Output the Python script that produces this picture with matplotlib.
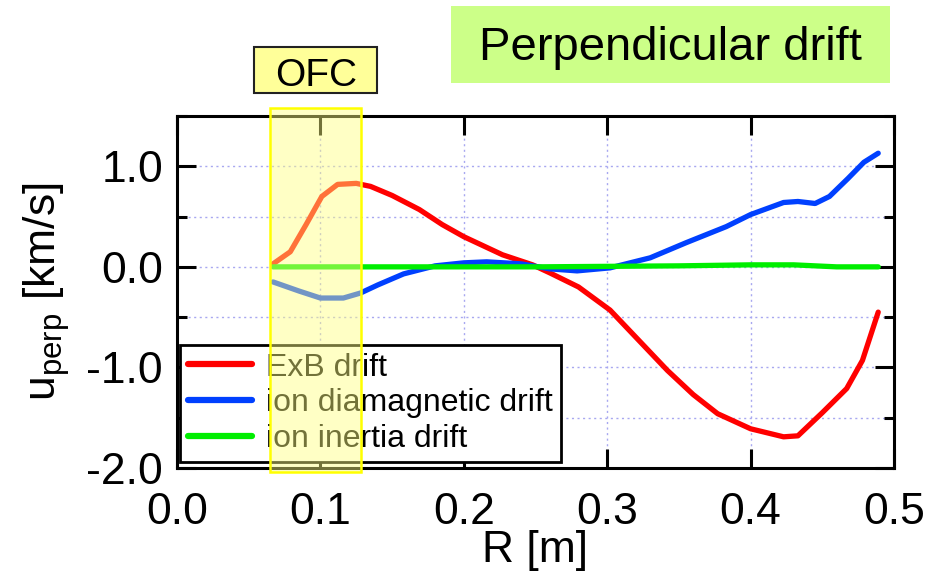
import matplotlib
matplotlib.use("Agg")
import matplotlib.pyplot as plt
from matplotlib.patches import Rectangle
from matplotlib.ticker import MultipleLocator, FormatStrFormatter

plt.rcParams['font.family'] = ['Liberation Sans', 'DejaVu Sans']
plt.rcParams['mathtext.fontset'] = 'custom'
plt.rcParams['mathtext.rm'] = 'Liberation Sans'
plt.rcParams['mathtext.it'] = 'Liberation Sans'

# ExB drift
r_exb = [0.067, 0.079, 0.090, 0.101, 0.112, 0.125, 0.135, 0.150, 0.169, 0.185, 0.200,
         0.227, 0.248, 0.260, 0.280, 0.302, 0.320, 0.342, 0.360, 0.377, 0.400, 0.423,
         0.433, 0.450, 0.467, 0.478, 0.489]
u_exb = [0.03, 0.15, 0.42, 0.70, 0.82, 0.83, 0.80, 0.71, 0.57, 0.42, 0.30,
         0.12, 0.02, -0.06, -0.20, -0.43, -0.70, -1.03, -1.27, -1.46, -1.61, -1.69,
         -1.68, -1.45, -1.21, -0.93, -0.45]

# ion diamagnetic drift
r_dia = [0.067, 0.085, 0.100, 0.116, 0.128, 0.140, 0.158, 0.180, 0.200, 0.216, 0.240,
         0.260, 0.279, 0.302, 0.330, 0.355, 0.383, 0.400, 0.423, 0.433, 0.445, 0.455,
         0.468, 0.479, 0.489]
u_dia = [-0.15, -0.24, -0.31, -0.31, -0.26, -0.18, -0.07, 0.01, 0.04, 0.05, 0.03,
         -0.02, -0.04, -0.01, 0.09, 0.24, 0.40, 0.52, 0.64, 0.65, 0.63, 0.70,
         0.88, 1.04, 1.13]

# ion inertia drift
r_ine = [0.067, 0.150, 0.250, 0.350, 0.400, 0.430, 0.460, 0.489]
u_ine = [0.00, 0.00, 0.00, 0.01, 0.02, 0.02, 0.00, 0.00]

labels = ["ExB drift", "ion diamagnetic drift", "ion inertia drift"]
colors = ["#ff0000", "#0040ff", "#00ee00"]

W, H = 931, 579
fig = plt.figure(figsize=(W/100, H/100), dpi=100)
ax = fig.add_axes([177/W, 1 - 468/H, (894-177)/W, (468-116)/H])

lw = 3.8
ax.plot(r_exb, u_exb, color=colors[0], lw=lw, label=labels[0], solid_capstyle='round', zorder=3)
ax.plot(r_dia, u_dia, color=colors[1], lw=lw, label=labels[1], solid_capstyle='round', zorder=3)
ax.plot(r_ine, u_ine, color=colors[2], lw=lw, label=labels[2], solid_capstyle='round', zorder=3)

ax.set_xlim(0, 0.5)
ax.set_ylim(-2.0, 1.5)
ax.xaxis.set_major_locator(MultipleLocator(0.1))
ax.yaxis.set_major_locator(MultipleLocator(1.0))
ax.yaxis.set_minor_locator(MultipleLocator(0.5))
ax.xaxis.set_major_formatter(FormatStrFormatter('%.1f'))
ax.yaxis.set_major_formatter(FormatStrFormatter('%.1f'))

ax.grid(True, which='major', axis='x', color='#a8a8f0', linestyle=(0, (1.5, 2.5)), lw=1.0)
ax.grid(True, which='both', axis='y', color='#a8a8f0', linestyle=(0, (1.5, 2.5)), lw=1.0)

ax.tick_params(which='major', direction='in', length=14, width=2.2, top=True, right=True,
               labelsize=32)
ax.tick_params(which='minor', direction='in', length=7, width=2.2, top=True, right=True)
ax.tick_params(axis='x', pad=17)
ax.tick_params(axis='y', pad=10)
for s in ax.spines.values():
    s.set_linewidth(2.2)

ax.set_xlabel("R [m]", fontsize=32, labelpad=-2)
ax.set_ylabel(r"u$_{\rm perp}$ [km/s]", fontsize=32, labelpad=10)

leg = ax.legend(loc='lower left', bbox_to_anchor=(180/W, 1 - 462/H), bbox_transform=fig.transFigure,
                fontsize=23, frameon=True, fancybox=False, borderpad=0.25, labelspacing=0.18,
                handlelength=2.0, handletextpad=0.45, borderaxespad=0)
leg.get_frame().set_edgecolor('black')
leg.get_frame().set_linewidth(2.0)
leg.get_frame().set_alpha(1)
for h in leg.get_lines():
    h.set_linewidth(4.5)
leg.set_zorder(4)

# OFC shaded region
fig.patches.append(Rectangle((270/W, 1 - 472/H), (361-270)/W, (472-108)/H, transform=fig.transFigure,
                             facecolor='#ffff80', alpha=0.45, edgecolor='none', zorder=5))
fig.patches.append(Rectangle((270/W, 1 - 472/H), (361-270)/W, (472-108)/H, transform=fig.transFigure,
                             facecolor='none', edgecolor='#ffff00', lw=1.8, zorder=6))

# OFC label
fig.patches.append(Rectangle((254/W, 1 - 93/H), (377-254)/W, (93-47)/H, transform=fig.transFigure,
                             facecolor='#ffff99', edgecolor='#222222', lw=1.5))
fig.text(316/W, 1 - 85.5/H, "OFC", fontsize=28, ha='center', va='baseline')

# Title box
fig.patches.append(Rectangle((451/W, 1 - 83/H), (890-451)/W, (83-6)/H, transform=fig.transFigure,
                             facecolor='#ccff88', edgecolor='none'))
fig.text(670/W, 1 - 60/H, "Perpendicular drift", fontsize=34, ha='center', va='baseline')

fig.savefig("out.png", dpi=100)
